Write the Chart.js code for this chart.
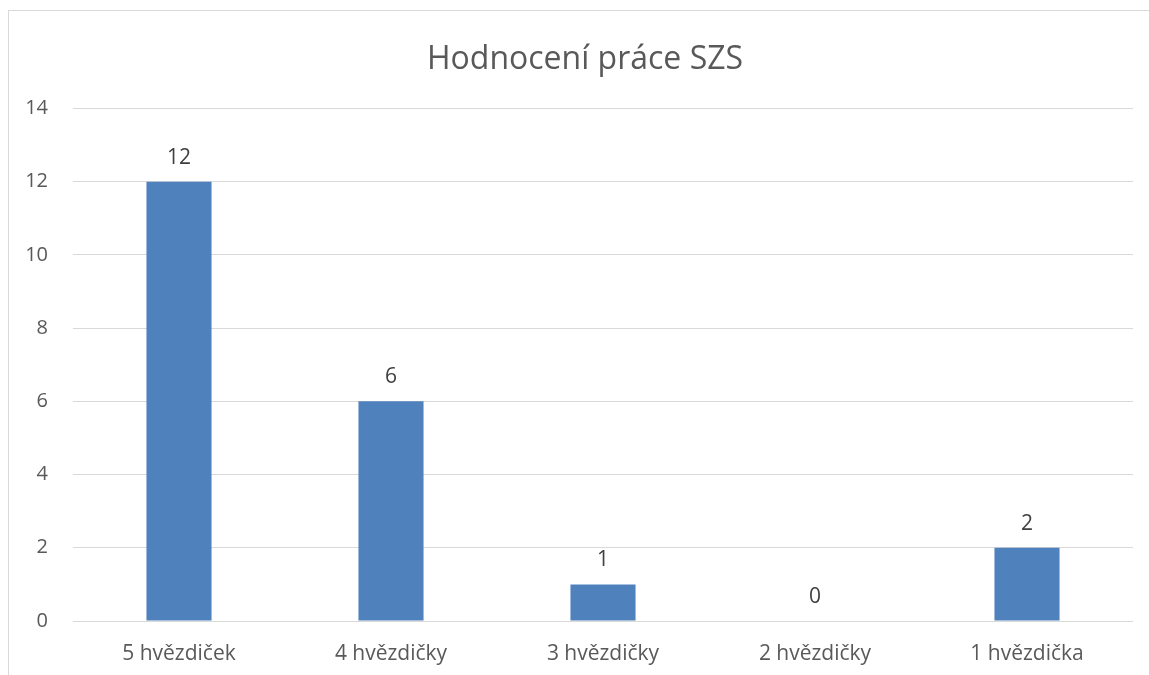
<!DOCTYPE html>
<html>
<head>
<meta charset="utf-8">
<script src="https://cdn.jsdelivr.net/npm/chart.js@4/dist/chart.umd.min.js"></script>
<style>
  html, body { margin: 0; padding: 0; background: #ffffff; overflow: hidden; }
  #wrap { position: relative; width: 1149px; height: 675px; }
  #frame { position: absolute; left: 8px; top: 10px; width: 1200px; height: 700px;
           border-left: 1px solid #d9d9d9; border-top: 1px solid #d9d9d9; pointer-events: none; }
  canvas { position: absolute; left: 0; top: 0; }
</style>
</head>
<body>
<div id="wrap">
  <canvas id="c" width="1149" height="675"></canvas>
  <div id="frame"></div>
</div>
<script>
const chartTitle = 'Hodnocení práce SZS';
const categories = ['5 hvězdiček', '4 hvězdičky', '3 hvězdičky', '2 hvězdičky', '1 hvězdička'];
const seriesName = 'Počet';
const values = [12, 6, 1, 0, 2];
const yTicks = [0, 2, 4, 6, 8, 10, 12, 14];

const FONT = "'Open Sans', 'DejaVu Sans', sans-serif";
const TITLE_CENTER_X = 585; // title centred on the outer chart frame

const dataLabels = {
  id: 'dataLabels',
  afterDatasetsDraw(chart) {
    const ctx = chart.ctx;
    const meta = chart.getDatasetMeta(0);
    ctx.save();
    ctx.font = '21px ' + FONT;
    ctx.fillStyle = '#404040';
    ctx.textAlign = 'center';
    ctx.textBaseline = 'middle';
    meta.data.forEach((bar, i) => {
      ctx.fillText(String(values[i]), bar.x, bar.y - 24);
    });
    ctx.restore();
  }
};

const frameTitle = {
  id: 'frameTitle',
  afterDraw(chart) {
    const tb = chart.titleBlock;
    const opts = tb.options;
    const lh = opts.font.size * opts.font.lineHeight;
    const y = tb.top + opts.padding.top + lh / 2;
    const ctx = chart.ctx;
    ctx.save();
    ctx.font = opts.font.size + 'px ' + FONT;
    ctx.fillStyle = '#595959';
    ctx.textAlign = 'center';
    ctx.textBaseline = 'middle';
    ctx.fillText(chartTitle, TITLE_CENTER_X, y);
    ctx.restore();
  }
};

new Chart(document.getElementById('c'), {
  type: 'bar',
  data: {
    labels: categories,
    datasets: [{
      label: seriesName,
      data: values,
      backgroundColor: '#4f81bd',
      borderWidth: 0,
      barPercentage: 0.307,
      categoryPercentage: 1.0
    }]
  },
  options: {
    responsive: false,
    animation: false,
    devicePixelRatio: 1,
    layout: { padding: { left: 0, right: 16, top: 0, bottom: 0 } },
    plugins: {
      legend: { display: false },
      tooltip: { enabled: false },
      title: {
        display: true,
        text: chartTitle,
        color: 'rgba(0,0,0,0)',
        font: { family: FONT, size: 32, weight: 'normal', lineHeight: 1.2 },
        padding: { top: 41, bottom: 29 }
      }
    },
    scales: {
      x: {
        grid: { display: false, drawTicks: false },
        border: { display: false },
        ticks: { color: '#595959', font: { family: FONT, size: 21 }, padding: 20, maxRotation: 0 },
        afterFit(scale) { scale.height = 54; }
      },
      y: {
        min: 0, max: 14,
        afterBuildTicks(scale) { scale.ticks = yTicks.map(v => ({ value: v })); },
        grid: { color: '#d9d9d9', lineWidth: 1, drawTicks: false },
        border: { display: false },
        ticks: { color: '#595959', font: { family: FONT, size: 20 }, padding: 25 },
        afterFit(scale) { scale.width = 73; }
      }
    }
  },
  plugins: [dataLabels, frameTitle]
});
</script>
</body>
</html>
